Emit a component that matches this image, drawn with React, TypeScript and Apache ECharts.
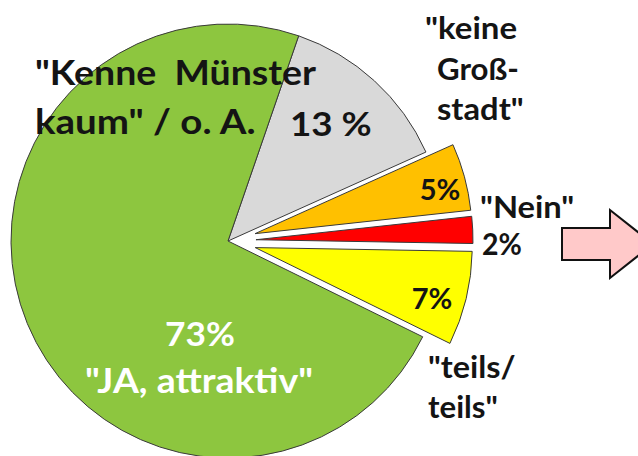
import React, { useEffect, useRef } from "react";
import * as echarts from "echarts";

const categories = ["keine Großstadt", "Nein (orange)", "Nein", "teils/teils", "JA, attraktiv"];
const values = [13, 5, 2, 7, 73];
const colors = ["#d9d9d9", "#ffc000", "#ff0000", "#ffff00", "#8dc63f"];
const exploded = [false, true, true, true, false];

const FONT = "Lato, 'Open Sans', sans-serif";

export default function App() {
  const ref = useRef<HTMLDivElement>(null);
  useEffect(() => {
    if (!ref.current) return;
    const chart = echarts.init(ref.current, undefined, { renderer: "svg" });
    const txt = (
      text: string,
      x: number,
      y: number,
      size: number,
      sx: number,
      align: string = "left",
      fill: string = "#141414"
    ) => ({
      type: "text",
      x,
      y,
      z: 100,
      scaleX: sx,
      style: {
        text,
        fill,
        font: `bold ${size}px ${FONT}`,
        textAlign: align,
        textVerticalAlign: "middle",
      },
    });
    chart.setOption({
      animation: false,
      backgroundColor: "#ffffff",
      series: [
        {
          type: "pie",
          center: [228, 241],
          radius: 217,
          startAngle: 71,
          clockwise: true,
          selectedMode: "multiple",
          selectedOffset: 28,
          silent: true,
          label: { show: false },
          labelLine: { show: false },
          emphasis: { disabled: true },
          itemStyle: { borderColor: "#3a3a3a", borderWidth: 1 },
          data: values.map((v, i) => ({
            name: categories[i],
            value: v,
            selected: exploded[i],
            itemStyle: { color: colors[i] },
          })),
        },
      ],
      graphic: [
        {
          type: "polygon",
          z: 50,
          shape: {
            points: [
              [562, 228],
              [610, 228],
              [610, 210],
              [653, 244],
              [610, 278],
              [610, 260],
              [562, 260],
            ],
          },
          style: { fill: "#ffc9c9", stroke: "#111", lineWidth: 2 },
        },
        txt('"Kenne  Münster', 35, 71, 35, 1.07),
        txt('kaum" / o. A.', 35, 121, 35, 1.1),
        txt(`${values[0]} %`, 290, 123, 32, 1.15),
        txt('"keine', 425, 28, 30, 1.1),
        txt("Groß-", 437, 69, 30, 1.04),
        txt('stadt"', 437, 109, 30, 1.09),
        txt(`${values[1]}%`, 440, 188, 29, 1.0, "center"),
        txt('"Nein"', 480, 207, 30, 1.09),
        txt(`${values[2]}%`, 482, 243, 30, 0.95),
        txt(`${values[3]}%`, 432, 297, 29, 1.0, "center"),
        txt(`${values[4]}%`, 200, 333, 33, 1.07, "center", "#ffffff"),
        txt('"JA, attraktiv"', 199, 380, 34, 1.1, "center", "#ffffff"),
        txt('"teils/', 428, 366, 30, 1.08),
        txt('teils"', 428, 407, 30, 1.04),
      ],
    });
    return () => chart.dispose();
  }, []);
  return (
    <div
      ref={ref}
      style={{ position: "absolute", left: 0, top: 0, width: 638, height: 456 }}
    />
  );
}
